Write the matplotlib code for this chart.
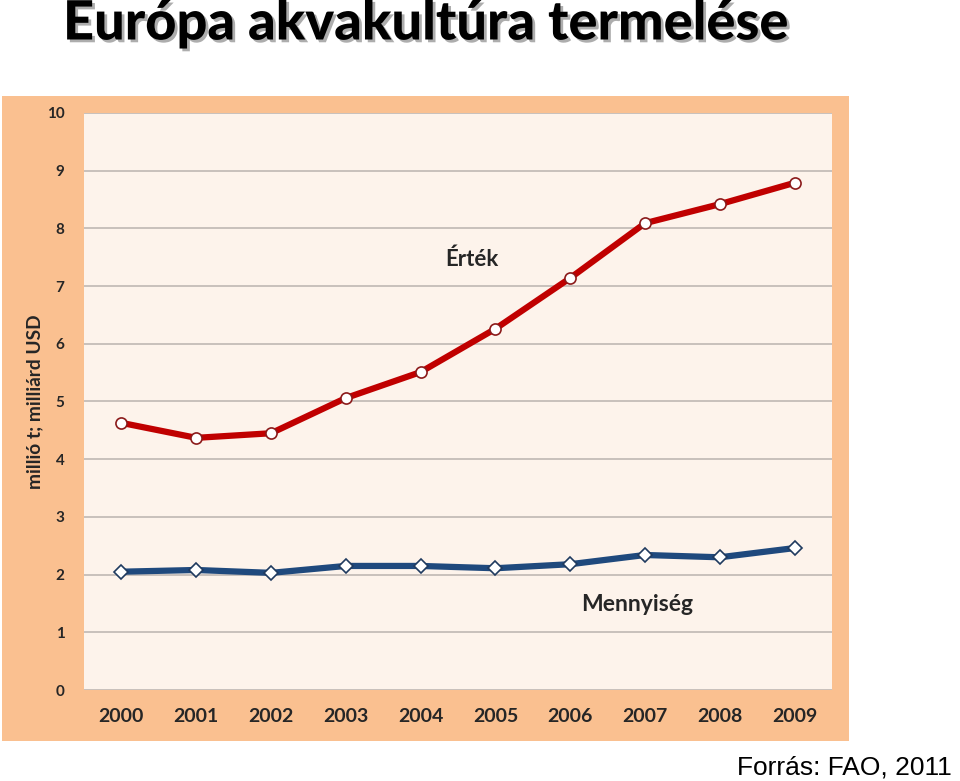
import matplotlib
matplotlib.use("Agg")
import matplotlib.pyplot as plt
import matplotlib.patheffects as pe
from matplotlib.patches import Rectangle

# data
years = ["2000", "2001", "2002", "2003", "2004", "2005", "2006", "2007", "2008", "2009"]
ertek = [4.63, 4.37, 4.45, 5.06, 5.51, 6.26, 7.14, 8.09, 8.42, 8.79]
mennyiseg = [2.05, 2.08, 2.03, 2.15, 2.15, 2.11, 2.18, 2.34, 2.30, 2.46]
yticks = [0, 1, 2, 3, 4, 5, 6, 7, 8, 9, 10]

plt.rcParams['font.family'] = ['Lato', 'DejaVu Sans']

fig = plt.figure(figsize=(9.6, 7.81), dpi=100)
fig.patch.set_facecolor("white")

# orange panel behind the chart
fig.patches.append(Rectangle((2/960, 1-741/781), 847/960, 645/781,
                             transform=fig.transFigure, facecolor="#FAC090",
                             edgecolor="none", zorder=-1))

ax = fig.add_axes([84/960, 1-690/781, 748/960, 577/781])
ax.set_zorder(1)
ax.set_facecolor("#FDF3EB")
x = list(range(len(years)))

ax.plot(x, ertek, color="#C00000", lw=4.5, marker="o", ms=8,
        mfc="white", mec="#8B1A1A", mew=1.2, zorder=3)
ax.plot(x, mennyiseg, color="#1F497D", lw=4.5, marker="D", ms=7,
        mfc="white", mec="#1F3A5F", mew=1.2, zorder=3)

ax.set_xlim(-0.5, 9.5)
ax.set_ylim(0, 10)
ax.set_yticks(yticks)
ax.set_yticklabels([str(t) for t in yticks], fontsize=11, fontweight="bold", color="#262626")
ax.set_xticks(x)
ax.set_xticklabels(years, fontsize=14, fontweight="bold", color="#262626")
ax.tick_params(axis="both", length=0)
ax.tick_params(axis="y", pad=14)
ax.tick_params(axis="x", pad=13)
ax.grid(axis="y", color="#BFB8B3", lw=1.2)
ax.set_axisbelow(True)
for s in ax.spines.values():
    s.set_visible(False)

ax.text(4.68, 7.47, "Érték", fontsize=16, fontweight="bold", color="#262626", ha="center", va="center")
ax.text(6.9, 1.49, "Mennyiség", fontsize=16.5, fontweight="bold", color="#262626", ha="center", va="center")

fig.text(35/960, 1-402/781, "millió t; milliárd USD", rotation=90, fontsize=13.8,
         fontweight="bold", color="#262626", ha="center", va="center")

fig.text(63/960, 1-24/781, "Európa akvakultúra termelése", fontsize=39, fontweight=900,
         color="black", ha="left", va="center",
         path_effects=[pe.withSimplePatchShadow(offset=(2, -2), shadow_rgbFace="#999999", alpha=0.8)])

fig.text(952/960, 1-768/781, "Forrás: FAO, 2011", fontsize=19,
         family=["Liberation Sans Narrow", "Liberation Sans", "DejaVu Sans"],
         color="black", ha="right", va="center")

fig.savefig("out.png", dpi=100)
